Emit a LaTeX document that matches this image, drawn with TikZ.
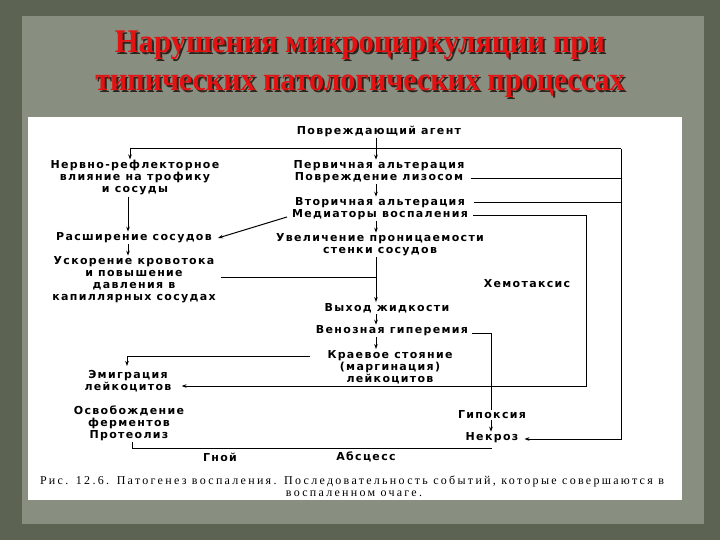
\documentclass[tikz,border=0pt]{standalone}
\usepackage{fontspec}
\usetikzlibrary{arrows.meta}
\newfontfamily\dfont{DejaVu Sans}[LetterSpace=12]
\newfontfamily\tfont{Liberation Serif}
\newfontfamily\cfont{Liberation Serif}[LetterSpace=19]
\definecolor{outerbg}{RGB}{92,99,82}
\definecolor{panelbg}{RGB}{136,142,128}
\definecolor{titlered}{RGB}{228,18,18}
\definecolor{shadowc}{RGB}{45,38,30}
\newcommand{\shadowed}[2]{\makebox[0pt][l]{\hspace{2pt}\raisebox{-2pt}{\textcolor{shadowc}{\scalebox{#1}[1]{#2}}}}\scalebox{#1}[1]{#2}}
\begin{document}
\begin{tikzpicture}[x=1pt,y=-1pt,
  txt/.style={font=\dfont\bfseries\fontsize{11}{12}\selectfont, align=center, inner sep=1pt},
  ttl/.style={font=\tfont\bfseries\fontsize{33}{36}\selectfont, anchor=base, inner sep=0pt, text=titlered},
  captxt/.style={font=\cfont\fontsize{12}{12}\selectfont, anchor=base, inner sep=0pt},
  ln/.style={line width=1pt},
  arr/.style={line width=1pt,-{Stealth[length=5pt,width=3.6pt]}}]
\fill[outerbg] (0,0) rectangle (720,540);
\useasboundingbox (0,0) rectangle (720,540);
\fill[panelbg] (22,16) rectangle (704,524);
\fill[white] (28,117) rectangle (682,500);
% title
\node[ttl] (t1) at (360,53) {\shadowed{0.93}{Нарушения микроциркуляции при}};
\node[ttl] (t2) at (360,91) {\shadowed{0.91}{типических патологических процессах}};
% central column
\node[txt] (agent) at (379,131) {Повреждающий агент};
\node[txt] (alt1) at (379,172) {Первичная альтерация\\Повреждение лизосом};
\node[txt] (alt2) at (380,209) {Вторичная альтерация\\Медиаторы воспаления};
\node[txt] (perm) at (380,245) {Увеличение проницаемости\\стенки сосудов};
\node[txt] (fluid) at (387,308) {Выход жидкости};
\node[txt] (venous) at (392,331) {Венозная гиперемия};
\node[txt] (margin) at (390,367) {Краевое стояние\\(маргинация)\\лейкоцитов};
% left column
\node[txt] (nerv) at (135,178) {Нервно-рефлекторное\\влияние на трофику\\и сосуды};
\node[txt] (dilat) at (134,238) {Расширение сосудов};
\node[txt] (accel) at (134,280) {Ускорение кровотока\\и повышение\\давления в\\капиллярных сосудах};
\node[txt] (emig) at (128,381) {Эмиграция\\лейкоцитов};
\node[txt] (enzym) at (129,423) {Освобождение\\ферментов\\Протеолиз};
\node[txt] (pus) at (220,457) {Гной};
\node[txt] (absc) at (366,457) {Абсцесс};
% right
\node[txt] (chemo) at (527,284) {Хемотаксис};
\node[txt] (hypox) at (492,415) {Гипоксия};
\node[txt] (necr) at (492,438) {Некроз};
% caption
\node[captxt] (cap1) at (352,484) {\makebox[624pt][s]{Рис. 12.6. Патогенез воспаления. Последовательность событий, которые совершаются в}};
\node[captxt] (cap2) at (354,496) {воспаленном очаге.};
% coordinates
\coordinate (colx) at (376,0);
\coordinate (lcol) at (128,0);
\coordinate (topL) at (130,149);
\coordinate (topR) at (621,149);
\coordinate (chR) at (586,216);
\coordinate (hx) at (491,0);
% connectors
\draw[arr] (agent.south -| colx) -- (alt1.north -| colx);
\draw[ln] (topL) -- (topR);
\draw[arr] (topL) -- (nerv.north -| topL);
\draw[arr] (topR) -- (topR |- 0,439) -- ([xshift=5pt]necr.east |- 0,439);
\draw[ln] ([xshift=5pt]alt1.east |- 0,179) -- (topR |- 0,179);
\draw[ln] ([xshift=5pt]alt2.east |- 0,203) -- (topR |- 0,203);
\draw[arr] ([xshift=4pt]alt2.east |- 0,216) -- (chR) -- (chR |- 0,386) -- ([xshift=9pt]emig.east |- 0,386);
\draw[arr] ([xshift=-4pt]alt2.west |- 0,217) -- ([xshift=5pt]dilat.east);
\draw[arr] (alt1.south -| colx) -- (alt2.north -| colx);
\draw[arr] (alt2.south -| colx) -- (perm.north -| colx);
\draw[arr] (perm.south -| colx) -- (fluid.north -| colx);
\draw[ln] (colx |- 0,277) -- ([xshift=4pt]accel.east |- 0,277);
\draw[arr] (fluid.south -| colx) -- (venous.north -| colx);
\draw[arr] (venous.south -| colx) -- (margin.north -| colx);
\draw[arr] (nerv.south -| lcol) -- (dilat.north -| lcol);
\draw[arr] (dilat.south -| lcol) -- (accel.north -| lcol);
\draw[arr, shorten >=3pt] ([xshift=-16pt]margin.west |- 0,356) -- (127,356) -- (emig.north -| 127,0);
\draw[ln] ([xshift=3pt]venous.east |- 0,333) -- (hx |- 0,333) -- (hypox.north -| hx);
\draw[arr] (hypox.south -| hx) -- (necr.north -| hx);
\draw[ln] (enzym.south -| 132,0) -- (132,448) -- (necr.south |- 0,448);
\end{tikzpicture}
\end{document}
